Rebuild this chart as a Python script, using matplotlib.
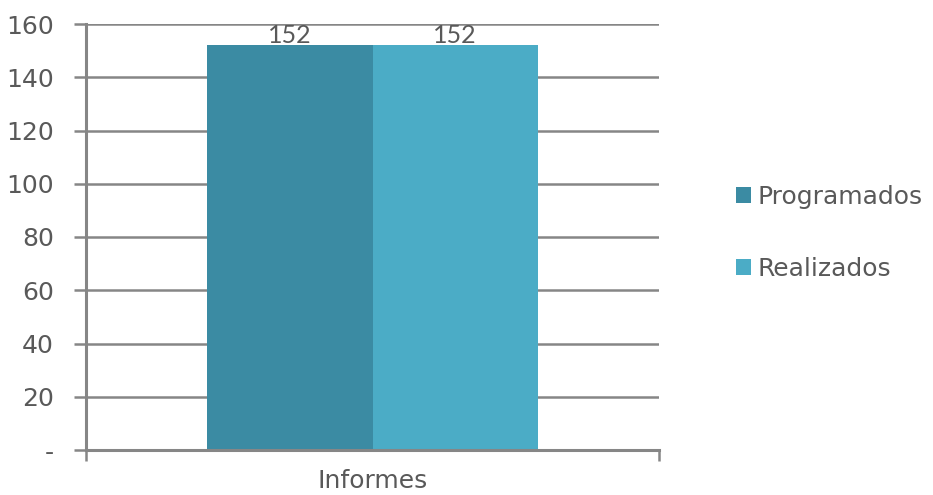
import numpy as np
import matplotlib.pyplot as plt

categories = ["Informes"]
series = ["Programados", "Realizados"]
values = [[152], [152]]
colors = ["#3B8BA3", "#4BACC6"]
yticks = [0, 20, 40, 60, 80, 100, 120, 140, 160]
ytick_labels = ["-", "20", "40", "60", "80", "100", "120", "140", "160"]

plt.rcParams['font.family'] = ['DejaVu Sans']
text_color = "#595959"
grid_color = "#868686"

fig = plt.figure(figsize=(9.33, 4.95), dpi=100)
ax = fig.add_axes([86 / 933, 1 - 450 / 495, 573 / 933, 426 / 495])

x = np.arange(len(categories))
w = 0.288
for i, s in enumerate(series):
    pos = x + (i - 0.5) * w
    bars = ax.bar(pos, values[i], w, color=colors[i], label=s, zorder=3)
    for b, v in zip(bars, values[i]):
        ax.text(b.get_x() + b.get_width() / 2, v - 0.6, str(v), ha="center", va="bottom",
                fontsize=18, color=text_color, zorder=4,
                family=["Lato", "DejaVu Sans"])

ax.set_xlim(-0.5, 0.5)
ax.set_ylim(0, 160)
ax.set_yticks(yticks)
ax.set_yticklabels(ytick_labels, fontsize=18, color=text_color)
ax.yaxis.grid(True, color=grid_color, linewidth=1.8, zorder=0)
ax.set_xticks([-0.5, 0.5])
ax.set_xticklabels([])
ax.set_xticks(x, minor=True)
ax.set_xticklabels(categories, minor=True, fontsize=18, color=text_color)
ax.tick_params(axis="x", which="minor", length=0, pad=14)
ax.tick_params(axis="x", which="major", length=8, width=1.8, color=grid_color, direction="out")
ax.tick_params(axis="y", length=9, width=1.8, color=grid_color, pad=14)

for side in ["top", "right"]:
    ax.spines[side].set_visible(False)
for side in ["left", "bottom"]:
    ax.spines[side].set_color(grid_color)
    ax.spines[side].set_linewidth(2.2)
    ax.spines[side].set_zorder(5)

leg = ax.legend(loc="center left", bbox_to_anchor=(713 / 933, 1 - 233 / 495),
                bbox_transform=fig.transFigure, frameon=False, fontsize=18,
                handlelength=0.6, handleheight=0.6, handletextpad=0.3,
                labelspacing=1.9, labelcolor=text_color)

fig.savefig("out.png", dpi=100)
